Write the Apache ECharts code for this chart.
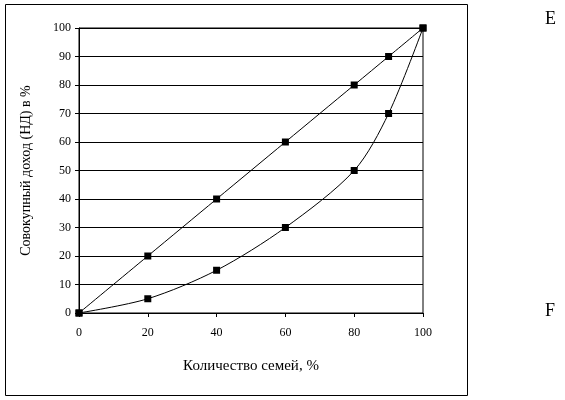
<!DOCTYPE html>
<html><head><meta charset="utf-8">
<script src="https://cdn.jsdelivr.net/npm/echarts@6/dist/echarts.min.js"></script>
<style>html,body{margin:0;background:#fff}#c{width:565px;height:400px}</style>
</head><body><div id="c"></div>
<script>
let xValues = [0, 20, 40, 60, 80, 90, 100];
let equalLine = [0, 20, 40, 60, 80, 90, 100];
let lorenzLine = [0, 5, 15, 30, 50, 70, 100];

let font = '"Liberation Serif", "DejaVu Serif", serif';
let pairs = arr => xValues.map((x, i) => [x, arr[i]]);

let lineSeries = data => ({
    type: 'line',
    data: pairs(data),
    smooth: 0.3,
    symbol: 'rect',
    symbolSize: 7,
    itemStyle: { color: '#000' },
    lineStyle: { color: '#000', width: 1 }
});

let chart = echarts.init(document.getElementById('c'));
chart.setOption({
    animation: false,
    textStyle: { fontFamily: font },
    grid: { left: 79, right: 142, top: 28, bottom: 87, show: true, borderColor: '#000', borderWidth: 1 },
    xAxis: {
        type: 'value', min: 0, max: 100, interval: 20,
        name: 'Количество семей, %', nameLocation: 'middle', nameGap: 46,
        nameTextStyle: { fontFamily: font, fontSize: 15, color: '#000' },
        axisLine: { lineStyle: { color: '#000' } },
        axisTick: { show: true, length: 4, lineStyle: { color: '#000' } },
        axisLabel: { fontFamily: font, fontSize: 12, color: '#000', margin: 14 },
        splitLine: { show: false }
    },
    yAxis: {
        type: 'value', min: 0, max: 100, interval: 10,
        name: 'Совокупный доход (НД) в %', nameLocation: 'middle', nameGap: 46,
        nameTextStyle: { fontFamily: font, fontSize: 14, color: '#000' },
        axisLine: { show: true, lineStyle: { color: '#000' } },
        axisTick: { show: true, length: 4, lineStyle: { color: '#000' } },
        axisLabel: { fontFamily: font, fontSize: 12, color: '#000', margin: 8 },
        splitLine: { lineStyle: { color: '#000', width: 1 } }
    },
    series: [lineSeries(equalLine), lineSeries(lorenzLine)],
    graphic: [
        { type: 'rect', shape: { x: 5.5, y: 4.5, width: 462, height: 391 },
          style: { fill: null, stroke: '#000', lineWidth: 1 }, silent: true },
        { type: 'text', left: 545, top: 10, style: { text: 'E', font: '18px ' + font, fill: '#000' } },
        { type: 'text', left: 545, top: 302, style: { text: 'F', font: '18px ' + font, fill: '#000' } }
    ]
});
</script></body></html>
